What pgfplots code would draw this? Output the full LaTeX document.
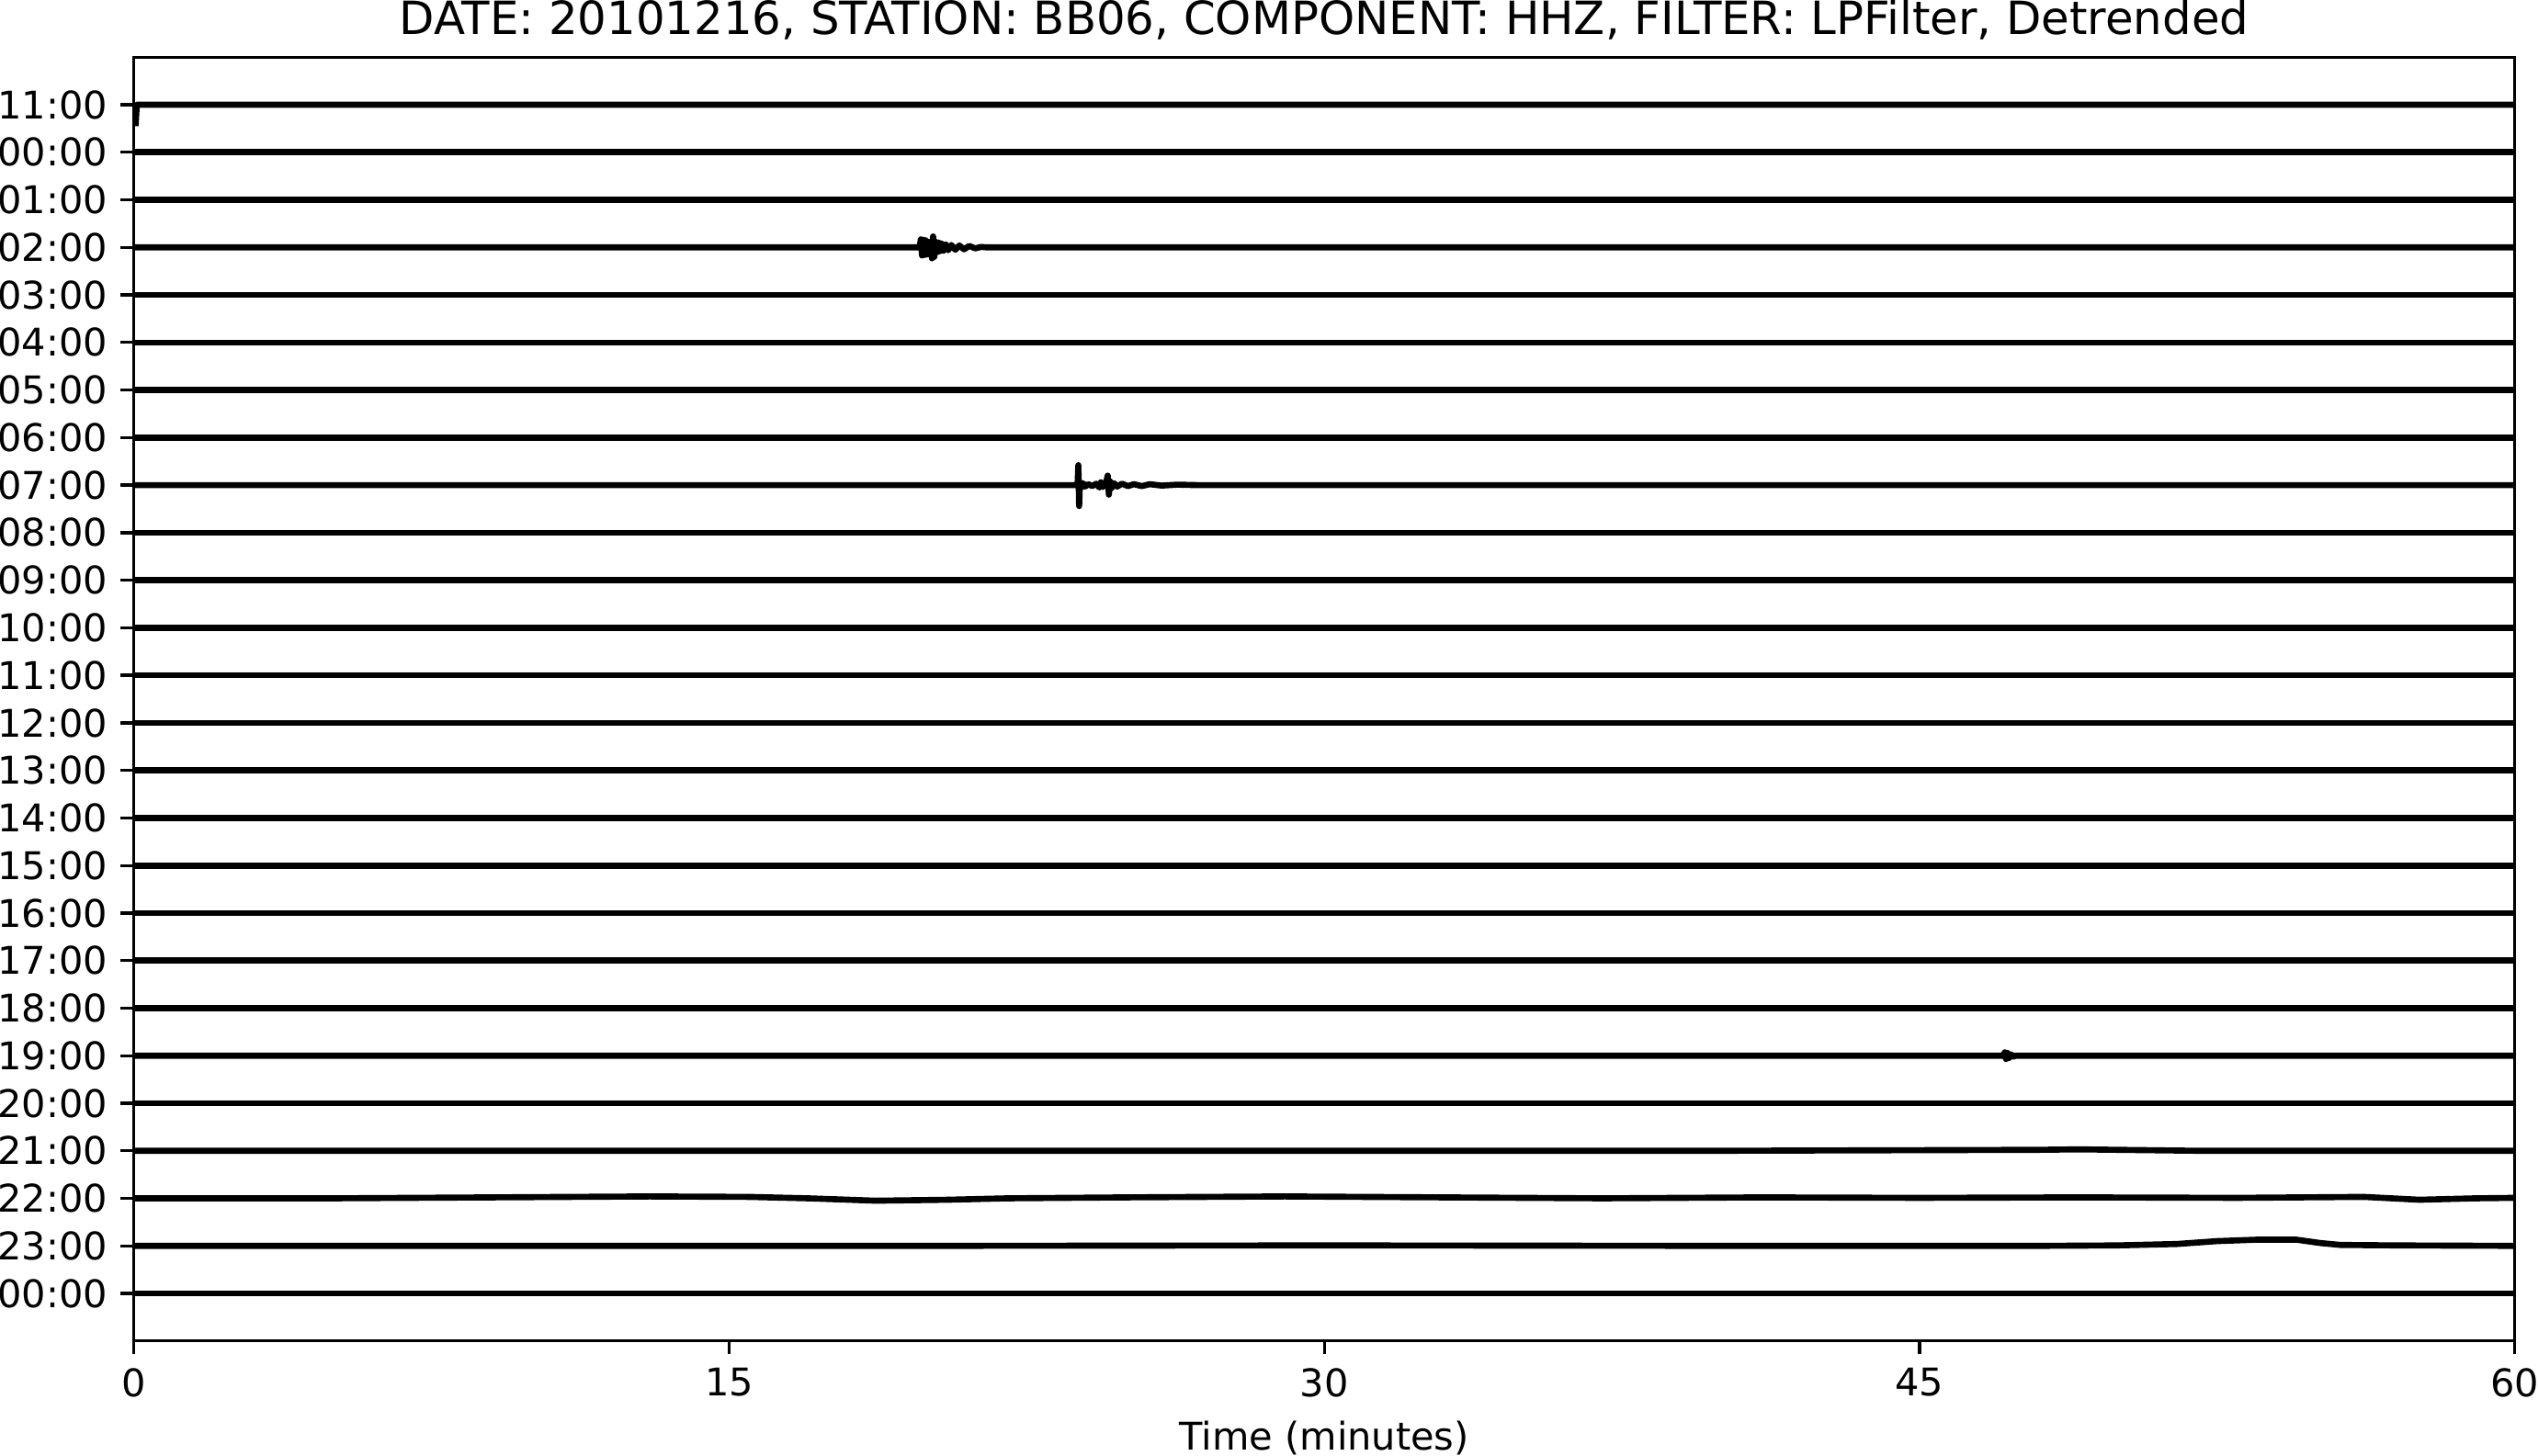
\documentclass[border=0pt]{standalone}
\usepackage{fontspec}
\setmainfont{DejaVu Sans}
\usepackage{pgfplots}
\pgfplotsset{compat=1.18}
\tikzset{tr/.style={black, line width=1.6pt, solid, mark=none, line join=round}}
\begin{document}
\begin{tikzpicture}
\begin{axis}[
  scale only axis,
  width=621.8bp, height=335.4bp,
  xmin=0, xmax=60, ymin=-1, ymax=26,
  xtick={0,15,30,45,60},
  ytick={0,1,2,3,4,5,6,7,8,9,10,11,12,13,14,15,16,17,18,19,20,21,22,23,24,25},
  yticklabels={00:00,23:00,22:00,21:00,20:00,19:00,18:00,17:00,16:00,15:00,14:00,13:00,12:00,11:00,10:00,09:00,08:00,07:00,06:00,05:00,04:00,03:00,02:00,01:00,00:00,11:00},
  tick align=outside,
  major tick length=3.5pt,
  tick style={black, line width=0.8pt},
  axis line style={black, line width=0.8pt},
  /pgf/number format/assume math mode=true,
  ticklabel style={font=\fontsize{10}{12}\selectfont, inner sep=0pt},
  xticklabel style={yshift=-3.5pt},
  yticklabel style={xshift=-3.2pt},
  xtick pos=bottom, ytick pos=left,
  xlabel={Time (minutes)},
  xlabel style={font=\fontsize{10}{12}\selectfont, inner sep=0pt, yshift=-6pt},
  title={DATE: 20101216, STATION: BB06, COMPONENT: HHZ, FILTER: LPFilter, Detrended},
  title style={font=\fontsize{12}{14}\selectfont, at={(0.5,1)}, anchor=base, inner sep=0pt},
  clip=true,
]
% 11:00
\addplot[tr] coordinates {(0.04,24.55) (0.07,25.0) (60,25.0)};
% 00:00
\addplot[tr] coordinates {(0,24) (60,24)};
% 01:00
\addplot[tr] coordinates {(0,23) (60,23)};
% 02:00 event
\addplot[tr] coordinates {(0,22) (19.80,22) (19.83,22.17) (19.86,21.83) (19.89,22.16) (19.92,21.84) (19.95,22.15) (19.98,21.85) (20.01,22.12) (20.04,21.9) (20.08,22.1) (20.11,21.77) (20.14,22.23) (20.17,21.8) (20.20,22.12) (20.24,21.9) (20.28,22.1) (20.31,21.92) (20.35,22.08) (20.40,21.93) (20.46,22.06) (20.52,21.94) (20.60,22.05) (20.70,21.95) (20.80,22.04) (20.92,21.96) (21.05,22.03) (21.2,21.98) (21.35,22.01) (21.5,22) (60,22)};
% 03:00 - 06:00
\addplot[tr] coordinates {(0,21) (60,21)};
\addplot[tr] coordinates {(0,20) (60,20)};
\addplot[tr] coordinates {(0,19) (60,19)};
\addplot[tr] coordinates {(0,18) (60,18)};
% 07:00 event
\addplot[tr] coordinates {(0,17) (23.78,17) (23.80,17.42) (23.82,16.56) (23.84,17.06) (23.87,16.95) (23.92,17.04) (23.97,16.97) (24.05,17.02) (24.15,16.98) (24.25,17.03) (24.33,16.95) (24.37,17.06) (24.42,16.96) (24.50,17.05) (24.54,17.2) (24.57,16.8) (24.60,17.08) (24.64,16.94) (24.70,17.04) (24.78,16.97) (24.9,17.03) (25.05,16.98) (25.2,17.02) (25.4,16.98) (25.6,17.02) (25.9,16.99) (26.3,17.01) (26.8,17) (60,17)};
% 08:00 - 18:00
\addplot[tr] coordinates {(0,16) (60,16)};
\addplot[tr] coordinates {(0,15) (60,15)};
\addplot[tr] coordinates {(0,14) (60,14)};
\addplot[tr] coordinates {(0,13) (60,13)};
\addplot[tr] coordinates {(0,12) (60,12)};
\addplot[tr] coordinates {(0,11) (60,11)};
\addplot[tr] coordinates {(0,10) (60,10)};
\addplot[tr] coordinates {(0,9) (60,9)};
\addplot[tr] coordinates {(0,8) (60,8)};
\addplot[tr] coordinates {(0,7) (60,7)};
\addplot[tr] coordinates {(0,6) (60,6)};
% 19:00 blip
\addplot[tr] coordinates {(0,5) (47.10,5) (47.15,5.07) (47.18,4.93) (47.21,5.06) (47.25,4.95) (47.30,5.03) (47.36,4.98) (47.42,5) (60,5)};
% 20:00
\addplot[tr] coordinates {(0,4) (60,4)};
% 21:00
\addplot[tr] coordinates {(0,3) (40,3) (48,3.02) (49,3.03) (50,3.02) (52,3) (60,3)};
% 22:00 slow wave
\addplot[tr] coordinates {(0,2) (5,2.0) (9,2.02) (13,2.04) (15.5,2.03) (17,2.0) (18.7,1.95) (20.5,1.97) (22,2.0) (25,2.02) (29,2.04) (33,2.02) (37,2.0) (41,2.02) (45,2.01) (49,2.02) (53,2.01) (56.2,2.03) (57.6,1.97) (59,2.0) (60,2.01)};
% 23:00 bump
\addplot[tr] coordinates {(0,1) (20,1) (30,1.01) (40,1.0) (48,1.0) (50,1.01) (51.5,1.04) (52.5,1.1) (53.5,1.13) (54.5,1.13) (55.1,1.06) (55.6,1.02) (57,1.01) (60,1.0)};
% 00:00
\addplot[tr] coordinates {(0,0) (60,0)};
\coordinate (bl) at (rel axis cs:0,0);
\coordinate (tr) at (rel axis cs:1,1);
\end{axis}
\pgfresetboundingbox
\path ([shift={(-35.0bp,-30.0bp)}]bl) rectangle ([shift={(6.1bp,14.95bp)}]tr);
\end{tikzpicture}
\end{document}
